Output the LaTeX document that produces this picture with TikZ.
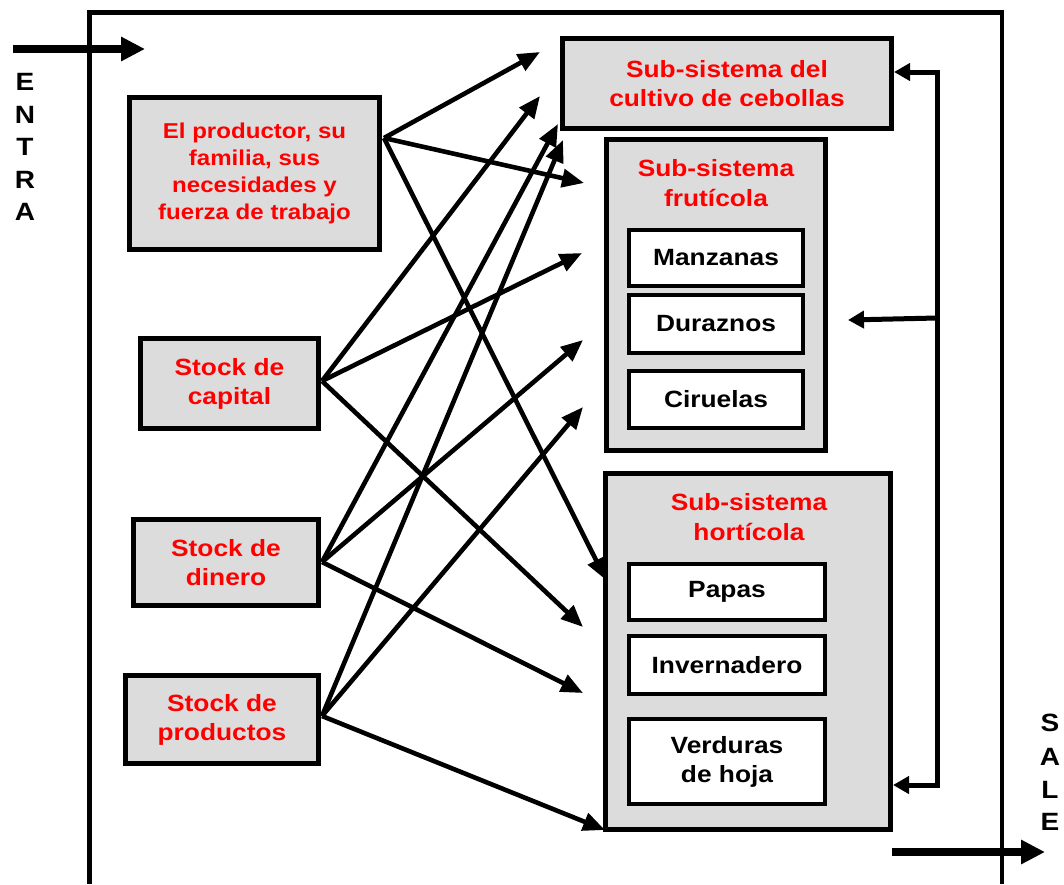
\documentclass[tikz,border=0pt]{standalone}
\usepackage{fontspec}
\setmainfont{Liberation Sans}[FakeStretch=1.12]
\usetikzlibrary{arrows.meta}
\definecolor{boxgray}{RGB}{220,220,220}
\definecolor{txtred}{RGB}{255,0,0}
\tikzset{
  txt/.style={font=\fontsize{23.5}{29}\selectfont\bfseries, align=center},
  graybox/.style={txt, draw=black, line width=5pt, fill=boxgray, text=txtred, inner sep=0pt},
  whitebox/.style={txt, draw=black, line width=4.5pt, fill=white, text=black, inner sep=0pt},
  titletext/.style={txt, text=txtred, font=\fontsize{23.5}{30}\selectfont\bfseries},
  conn/.style={line width=4.6pt, -{Triangle[length=22pt,width=18pt]}},
  bigarrow/.style={line width=8pt, -{Triangle[length=24pt,width=23pt]}},
  fbline/.style={line width=5pt, line join=miter},
  fbtip/.tip={Triangle[length=16pt,width=17pt]},
  letter/.style={font=\fontsize{25}{25}\selectfont\bfseries, inner sep=0pt},
}
\begin{document}
\begin{tikzpicture}[x=1pt,y=-1pt]
\useasboundingbox (0,0) rectangle (1064,884);

% outer frame
\draw[line width=4.5pt] (89.5,884) -- (89.5,12.5) -- (1002,12.5) -- (1002,884);

% entry / exit
\coordinate (inS) at (13,49);
\coordinate (inE) at (145,49);
\draw[bigarrow] (inS) -- (inE);
\coordinate (outS) at (892,852);
\coordinate (outE) at (1045,852);
\draw[bigarrow] (outS) -- (outE);

\node[letter] (e1) at (25,82) {E};
\node[letter] (e2) at (25,115) {N};
\node[letter] (e3) at (25,147) {T};
\node[letter] (e4) at (25,180) {R};
\node[letter] (e5) at (25,212) {A};
\node[letter] (s1) at (1050,723) {S};
\node[letter] (s2) at (1050,757) {A};
\node[letter] (s3) at (1050,790) {L};
\node[letter] (s4) at (1050,822) {E};

% left boxes
\node[graybox, minimum width=250pt, minimum height=152pt, font=\fontsize{21.5}{27}\selectfont\bfseries] (prod) at (254.5,173.5)
  {El productor, su\\familia, sus\\necesidades y\\fuerza de trabajo};
\node[graybox, minimum width=178pt, minimum height=90pt] (cap) at (229.5,383.5) {Stock de\\capital};
\node[graybox, minimum width=185pt, minimum height=86pt] (din) at (226,562.5) {Stock de\\dinero};
\node[graybox, minimum width=193pt, minimum height=88pt] (pro) at (222,719.5) {Stock de\\productos};

% right boxes
\node[graybox, minimum width=329pt, minimum height=90pt] (ceb) at (727,83.5) {Sub-sistema del\\cultivo de cebollas};
\node[graybox, minimum width=219pt, minimum height=311pt] (fru) at (716,295) {};
\node[titletext] (frut) at (716,183) {Sub-sistema\\frutícola};
\node[whitebox, minimum width=174pt, minimum height=56pt] (man) at (716,258) {Manzanas};
\node[whitebox, minimum width=174pt, minimum height=58pt] (dur) at (716,324) {Duraznos};
\node[whitebox, minimum width=174pt, minimum height=57pt] (cir) at (716,399.5) {Ciruelas};

\node[graybox, minimum width=285pt, minimum height=356pt] (hor) at (748,651.5) {};
\node[titletext] (hort) at (749,517) {Sub-sistema\\hortícola};
\node[whitebox, minimum width=196pt, minimum height=56pt] (pap) at (727,592) {Papas};
\node[whitebox, minimum width=196pt, minimum height=58pt] (inv) at (727,665) {Invernadero};
\node[whitebox, minimum width=196pt, minimum height=85pt] (ver) at (727,761.5) {Verduras\\de hoja};

% connector origins
\coordinate (oPr) at (384,138);
\coordinate (oCa) at (322,381);
\coordinate (oDi) at (322,562);
\coordinate (oPo) at (322,716);
% connector tips
\coordinate (tPr1) at (540,52);
\coordinate (tPr2) at (584,183);
\coordinate (tPr3) at (606,580);
\coordinate (tCa1) at (540,96);
\coordinate (tCa2) at (582,253);
\coordinate (tCa3) at (583,627);
\coordinate (tDi1) at (558,124);
\coordinate (tDi2) at (583,340);
\coordinate (tDi3) at (583,693);
\coordinate (tPo1) at (563,140);
\coordinate (tPo2) at (583,407);
\coordinate (tPo3) at (605,830);

\foreach \o/\t in {Pr/1,Pr/2,Pr/3,Ca/1,Ca/2,Ca/3,Di/1,Di/2,Di/3,Po/1,Po/2,Po/3}
  \draw[conn] (o\o) -- (t\o\t);

% feedback
\coordinate (fbT) at (937,72);
\coordinate (fbB) at (937,785);
\coordinate (fbM) at (937,318);
\coordinate (fbTip) at (848,320);
\draw[fbline, fbtip-fbtip] (ceb.east |- fbT) -- (fbT) -- (fbB) -- (hor.east |- fbB);
\draw[fbline, -fbtip] (fbM) -- (fbTip);
\end{tikzpicture}
\end{document}
